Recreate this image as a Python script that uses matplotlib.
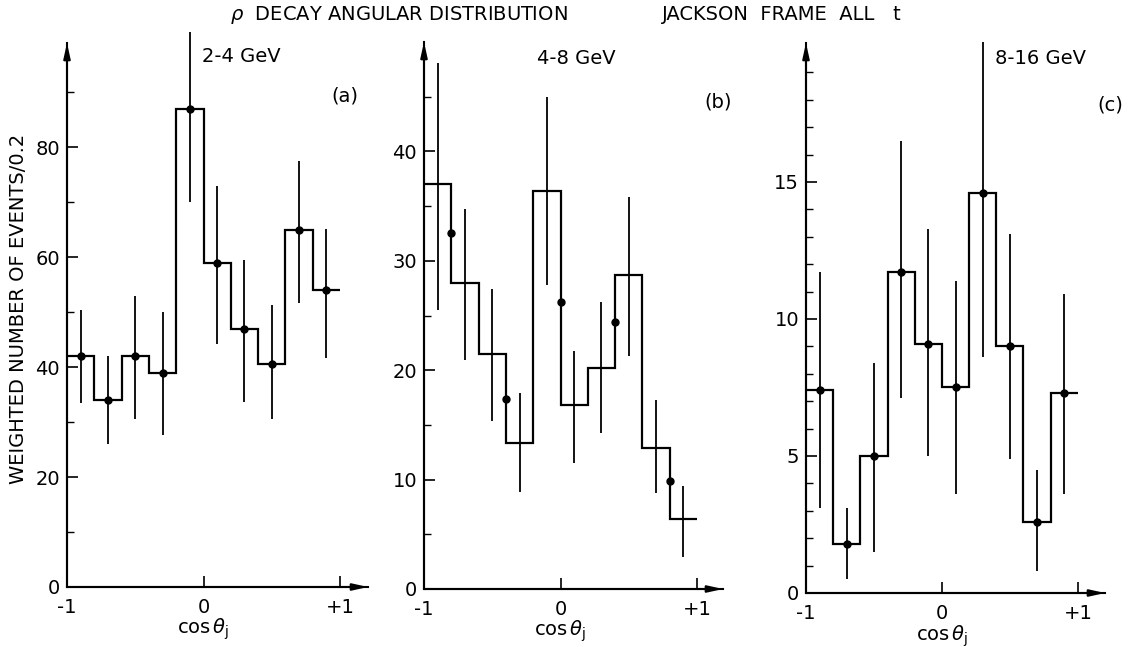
import numpy as np
import matplotlib.pyplot as plt

plt.rcParams['font.family'] = ['DejaVu Sans']

# 10 bins of 0.2 in cos theta_j
edges = np.linspace(-1, 1, 11)
centers = (edges[:-1] + edges[1:]) / 2

# (a) 2-4 GeV
a_counts = [42, 34, 42, 39, 87, 59, 47, 40.5, 65, 54]
a_top = [50.4, 42, 53, 50, 101, 73, 59.5, 51.3, 77.5, 65.2]
a_bot = [33.5, 26, 30.5, 27.6, 70, 44.3, 33.6, 30.5, 51.6, 41.6]

# (b) 4-8 GeV -- dots sit on the bin edges here
b_counts = [37, 28, 21.5, 13.3, 36.4, 16.8, 20.2, 28.7, 12.9, 6.4]
b_top = [48.1, 34.7, 27.4, 17.9, 45, 21.8, 26.2, 35.8, 17.3, 9.4]
b_bot = [25.5, 20.9, 15.4, 8.9, 27.8, 11.5, 14.3, 21.3, 8.8, 2.9]
b_pts_x = [-0.8, -0.4, 0.0, 0.4, 0.8]
b_pts_y = [32.5, 17.4, 26.2, 24.4, 9.9]

# (c) 8-16 GeV
c_counts = [7.4, 1.8, 5.0, 11.7, 9.1, 7.5, 14.6, 9.0, 2.6, 7.3]
c_top = [11.7, 3.1, 8.4, 16.5, 13.3, 11.4, 20.1, 13.1, 4.5, 10.9]
c_bot = [3.1, 0.5, 1.5, 7.1, 5.0, 3.6, 8.6, 4.9, 0.8, 3.6]

xticks = [-1, 0, 1]
xticklabels = ['-1', '0', '+1']

W, H = 1135, 647
fig = plt.figure(figsize=(W / 100, H / 100), dpi=100)


def make_ax(l, t, r, b):
    return fig.add_axes([l / W, (H - b) / H, (r - l) / W, (b - t) / H])


def setup(ax, xmax, ymax, major, minor, tickmax):
    ax.set_xlim(-1, xmax)
    ax.set_ylim(0, ymax)
    for s in ['top', 'right']:
        ax.spines[s].set_visible(False)
    for s in ['left', 'bottom']:
        ax.spines[s].set_linewidth(1.5)
    ax.set_yticks(np.arange(0, tickmax, major))
    ax.set_yticks(np.arange(0, tickmax, minor), minor=True)
    ax.set_xticks(xticks, xticklabels)
    ax.tick_params(axis='both', which='major', direction='in', length=8,
                   width=1.2, labelsize=14)
    ax.tick_params(axis='y', which='major', pad=5)
    ax.tick_params(axis='x', which='major', pad=8)
    ax.tick_params(axis='y', which='minor', direction='in', length=5, width=1.0)
    arrow = dict(arrowstyle='-|>,head_length=0.9,head_width=0.2', color='k',
                 lw=1.5, shrinkA=0, shrinkB=0)
    ax.annotate('', xy=(1, 0), xytext=(0, 0), xycoords='axes fraction', arrowprops=arrow)
    ax.annotate('', xy=(0, 1), xytext=(0, 0), xycoords='axes fraction', arrowprops=arrow)
    ax.text(0, -0.078, r'cos$\,\theta_\mathrm{j}$', transform=ax.get_xaxis_transform(),
            ha='center', va='center', fontsize=14)


def hist(ax, counts, top, bot, dots=True):
    ax.stairs(counts, edges, baseline=None, color='k', lw=1.6)
    ax.vlines(centers, bot, top, color='k', lw=1.3, clip_on=False)
    if dots:
        ax.plot(centers, counts, 'o', color='k', ms=5, clip_on=False)


ax_a = make_ax(67, 43, 368, 587)
setup(ax_a, 1.205, 99, 20, 10, 95)
hist(ax_a, a_counts, a_top, a_bot)

ax_b = make_ax(424, 42, 723, 589)
setup(ax_b, 1.19, 50, 10, 5, 48)
hist(ax_b, b_counts, b_top, b_bot, dots=False)
ax_b.plot(b_pts_x, b_pts_y, 'o', color='k', ms=5)

ax_c = make_ax(806, 43, 1105, 593)
setup(ax_c, 1.2, 20.07, 5, 1, 19.5)
hist(ax_c, c_counts, c_top, c_bot)

# panel labels
fig.text(202 / W, 1 - 57 / H, '2-4 GeV', fontsize=14, va='center', ha='left')
fig.text(345 / W, 1 - 96 / H, '(a)', fontsize=14, va='center', ha='center')
fig.text(537 / W, 1 - 59 / H, '4-8 GeV', fontsize=14, va='center', ha='left')
fig.text(718 / W, 1 - 102 / H, '(b)', fontsize=14, va='center', ha='center')
fig.text(995 / W, 1 - 59 / H, '8-16 GeV', fontsize=14, va='center', ha='left')
fig.text(1110 / W, 1 - 105 / H, '(c)', fontsize=14, va='center', ha='center')

fig.text(230 / W, 1 - 15 / H, r'$\rho$  DECAY ANGULAR DISTRIBUTION', fontsize=14,
         va='center', ha='left')
fig.text(662 / W, 1 - 15 / H, 'JACKSON  FRAME  ALL   t', fontsize=14, va='center', ha='left')
fig.text(19 / W, 1 - 309 / H, 'WEIGHTED NUMBER OF EVENTS/0.2', fontsize=14,
         rotation=90, va='center', ha='center')

fig.savefig('out.png', dpi=100, facecolor='white')
